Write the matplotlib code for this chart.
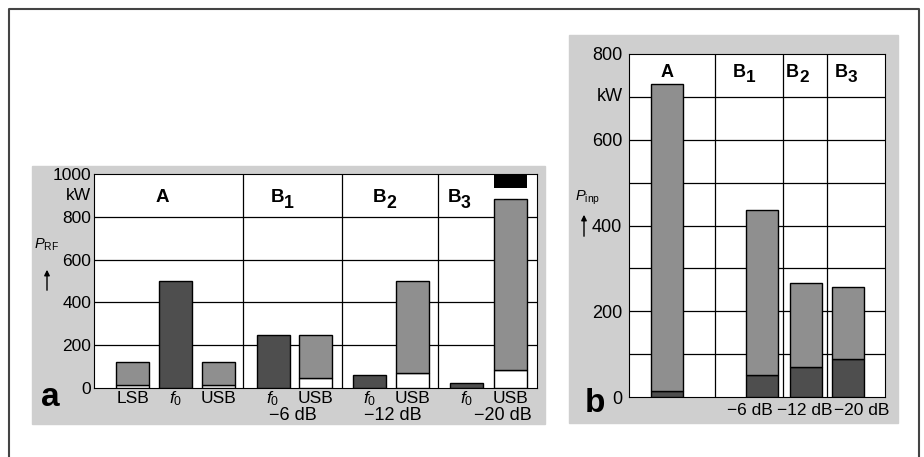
import matplotlib
matplotlib.use("Agg")
import matplotlib.pyplot as plt
from matplotlib.patches import Rectangle, FancyArrowPatch
from matplotlib.lines import Line2D

plt.rcParams['font.family'] = ['Liberation Sans', 'DejaVu Sans']
plt.rcParams['mathtext.fontset'] = 'custom'
plt.rcParams['mathtext.rm'] = 'Liberation Sans'
plt.rcParams['mathtext.it'] = 'Liberation Sans:italic'
plt.rcParams['mathtext.bf'] = 'Liberation Sans:bold'

# ---- data, panel a (RF power per spectral line) ----
a_groups = [('A', ''), ('B', '1'), ('B', '2'), ('B', '3')]
a_ticks = ['LSB', r'$\mathit{f}_0$', 'USB', r'$\mathit{f}_0$', 'USB',
           r'$\mathit{f}_0$', 'USB', r'$\mathit{f}_0$', 'USB']
a_total = [120, 500, 120, 250, 250, 62, 500, 22, 885]
a_white = [12, 0, 12, 0, 45, 0, 72, 0, 82]
a_carrier = [False, True, False, True, False, True, False, True, False]
a_levels = ['\u22126 dB', '\u221212 dB', '\u221220 dB']
a_blob = [935, 1000]   # black smudge on top of last bar

# ---- data, panel b (input power) ----
b_groups = [('A', ''), ('B', '1'), ('B', '2'), ('B', '3')]
b_total = [730, 436, 266, 257]
b_dark = [14, 51, 70, 89]
b_levels = ['\u22126 dB', '\u221212 dB', '\u221220 dB']

W, H = 924, 457
fig = plt.figure(figsize=(W / 100, H / 100), dpi=100)
fig.patch.set_facecolor('white')

def px(x0, y0, x1, y1):
    return [x0 / W, 1 - y1 / H, (x1 - x0) / W, (y1 - y0) / H]

def group_label(axis, x, y, name, sub, size):
    if sub == '':
        axis.text(x, y, name, ha='center', va='center', fontsize=size, fontweight='bold')
    else:
        axis.text(x + 1, y, name, ha='right', va='center', fontsize=size, fontweight='bold')
        axis.annotate(sub, (x + 1, y), xytext=(0, -4), textcoords='offset points',
                      ha='left', va='center', fontsize=size * 0.95, fontweight='bold')

panel_bg = '#cfcfcf'
light = '#8f8f8f'
dark = '#4e4e4e'

# outer frame
fig.add_artist(Line2D([9 / W, 9 / W, 919 / W, 919 / W], [0, 1 - 9 / H, 1 - 9 / H, 0],
                      color='#444444', lw=1.5, transform=fig.transFigure))
# gray panels
fig.add_artist(Rectangle((32 / W, 1 - 424 / H), (545 - 32) / W, (424 - 166) / H,
                         transform=fig.transFigure, color=panel_bg, zorder=0))
fig.add_artist(Rectangle((569 / W, 1 - 423 / H), (898 - 569) / W, (423 - 35) / H,
                         transform=fig.transFigure, color=panel_bg, zorder=0))

# ================= panel a =================
ax = fig.add_axes(px(94, 174, 537, 388))
xa = [38.5, 81.5, 124.5, 179, 221.5, 275.5, 319, 372.5, 416.5]
sep_a = [149, 248, 344]
bw = 33
for i in range(len(a_total)):
    if a_carrier[i]:
        ax.bar(xa[i], a_total[i], bw, color=dark, edgecolor='black', lw=1, zorder=3)
    else:
        ax.bar(xa[i], a_white[i], bw, color='white', edgecolor='black', lw=1, zorder=3)
        ax.bar(xa[i], a_total[i] - a_white[i], bw, bottom=a_white[i], color=light,
               edgecolor='black', lw=1, zorder=3)
ax.bar(xa[-1], a_blob[1] - a_blob[0], bw, bottom=a_blob[0], color='black', zorder=3)
ax.set_xlim(0, 443)
ax.set_ylim(0, 1000)
for y in [200, 400, 600, 800]:
    ax.axhline(y, color='black', lw=0.9, zorder=1)
for x in sep_a:
    ax.axvline(x, color='black', lw=0.9, zorder=1)
ax.set_yticks([0, 200, 400, 600, 800, 1000])
ax.tick_params(axis='y', length=0, pad=2, labelsize=12.5)
ax.set_xticks([])
ax.text(-3, 900, 'kW', ha='right', va='center', fontsize=12.5)

grp_x_a = [68, 189, 291, 366]
for gx, (g, s) in zip(grp_x_a, a_groups):
    group_label(ax, gx, 890, g, s, 13.5)

for x, t in zip(xa, a_ticks):
    ax.text(x, -0.051, t, transform=ax.get_xaxis_transform(), ha='center', va='center',
            fontsize=12.5)
lev_x_a = [199, 299, 409]
for x, t in zip(lev_x_a, a_levels):
    ax.text(x, -0.128, t, transform=ax.get_xaxis_transform(), ha='center', va='center',
            fontsize=13)

fig.text(47 / W, 1 - 245 / H, r'$P_{\mathrm{RF}}$', ha='center', va='center', fontsize=10.5)
fig.add_artist(FancyArrowPatch((47 / W, 1 - 293 / H), (47 / W, 1 - 267 / H),
               transform=fig.transFigure, arrowstyle='-|>', mutation_scale=8,
               color='black', lw=1))
fig.text(50 / W, 1 - 397 / H, 'a', ha='center', va='center', fontsize=24, fontweight='bold')

# ================= panel b =================
bx = fig.add_axes(px(629, 54, 885, 397))
xb = [37.5, 133, 176.5, 219]
sep_b = [86, 154, 198]
bwb = 32
for i in range(len(b_total)):
    bx.bar(xb[i], b_dark[i], bwb, color=dark, edgecolor='black', lw=1, zorder=3)
    bx.bar(xb[i], b_total[i] - b_dark[i], bwb, bottom=b_dark[i], color=light,
           edgecolor='black', lw=1, zorder=3)
bx.set_xlim(0, 256)
bx.set_ylim(0, 800)
for y in range(100, 800, 100):
    bx.axhline(y, color='black', lw=0.9, zorder=1)
for x in sep_b:
    bx.axvline(x, color='black', lw=0.9, zorder=1)
bx.set_yticks([0, 200, 400, 600, 800])
bx.tick_params(axis='y', length=0, pad=5, labelsize=13)
bx.set_xticks([])
bx.text(-6, 700, 'kW', ha='right', va='center', fontsize=13)

grp_x_b = [38, 116, 169, 218]
for gx, (g, s) in zip(grp_x_b, b_groups):
    group_label(bx, gx, 758, g, s, 13)

lev_x_b = [121, 176, 233]
for x, t in zip(lev_x_b, b_levels):
    bx.text(x, -0.038, t, transform=bx.get_xaxis_transform(), ha='center', va='center',
            fontsize=12.5)

fig.text(588 / W, 1 - 198 / H, r'$P_{\mathrm{inp}}$', ha='center', va='center', fontsize=10.5)
fig.add_artist(FancyArrowPatch((584 / W, 1 - 239 / H), (584 / W, 1 - 212 / H),
               transform=fig.transFigure, arrowstyle='-|>', mutation_scale=8,
               color='black', lw=1))
fig.text(595 / W, 1 - 404 / H, 'b', ha='center', va='center', fontsize=24, fontweight='bold')

fig.savefig('out.png', dpi=100)
